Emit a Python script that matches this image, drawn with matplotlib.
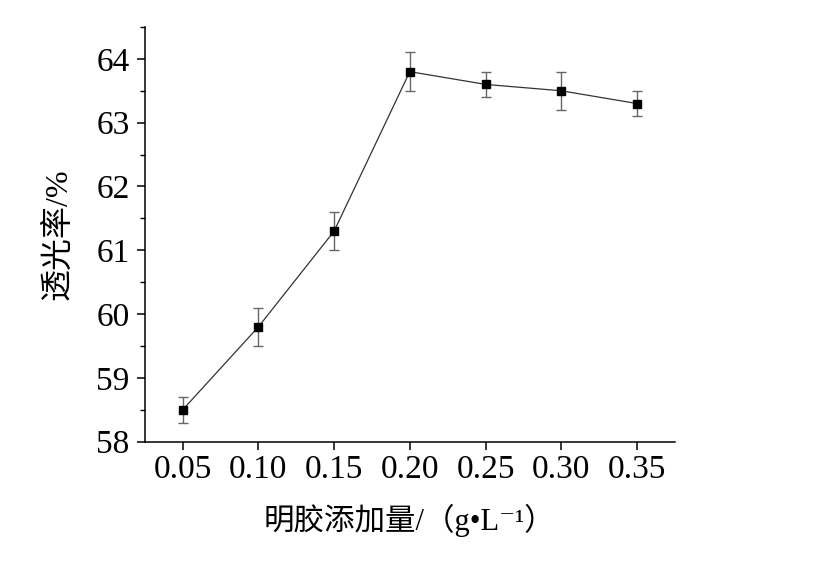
import matplotlib
matplotlib.use('Agg')
import matplotlib.pyplot as plt
from matplotlib.ticker import MultipleLocator

plt.rcParams['font.family'] = ['Liberation Serif', 'Noto Sans CJK SC', 'DejaVu Serif']

# gelatin dosage (g/L) vs transmittance (%)
dosage = [0.05, 0.10, 0.15, 0.20, 0.25, 0.30, 0.35]
transmittance = [58.5, 59.8, 61.3, 63.8, 63.6, 63.5, 63.3]
err = [0.2, 0.3, 0.3, 0.3, 0.2, 0.3, 0.2]
xtick_labels = ['0.05', '0.10', '0.15', '0.20', '0.25', '0.30', '0.35']

fig = plt.figure(figsize=(8.18, 5.62), dpi=100)
ax = fig.add_axes([0.177, 0.214, 0.648, 0.738])

ax.errorbar(dosage, transmittance, yerr=err, fmt='none', ecolor='#666666',
            elinewidth=1.0, capsize=3.5, capthick=1.0, zorder=2)
ax.plot(dosage, transmittance, color='#333333', linewidth=0.9, zorder=3)
ax.plot(dosage, transmittance, linestyle='none', marker='s', markersize=5.5,
        color='black', zorder=4)

ax.set_xlim(0.025, 0.375)
ax.set_ylim(58, 64.5)
ax.set_xticks(dosage)
ax.set_xticklabels(xtick_labels)
ax.yaxis.set_major_locator(MultipleLocator(1))
ax.yaxis.set_minor_locator(MultipleLocator(0.5))

for s in ['top', 'right']:
    ax.spines[s].set_visible(False)
for s in ['left', 'bottom']:
    ax.spines[s].set_linewidth(1.1)

ax.tick_params(axis='both', which='major', direction='out', length=6, width=1.1,
               labelsize=24, pad=5)
ax.tick_params(axis='y', which='minor', direction='out', length=3.5, width=1.0)
ax.tick_params(axis='x', pad=3)

ax.set_xlabel('明胶添加量/（g•L⁻¹）', fontsize=22, labelpad=14)
ax.set_ylabel('透光率/%', fontsize=23, labelpad=16)

fig.savefig('out.png', dpi=100, facecolor='white')
